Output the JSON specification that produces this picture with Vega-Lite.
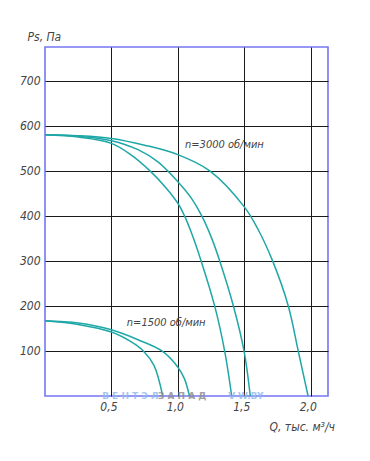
{
  "$schema": "https://vega.github.io/schema/vega-lite/v6.json",
  "autosize": "none",
  "width": 283,
  "height": 349,
  "padding": {"left": 45, "top": 47, "right": 42, "bottom": 65},
  "background": "white",
  "config": {
    "view": {"stroke": "#7676f2", "strokeWidth": 1.6},
    "font": "DejaVu Sans Condensed, Liberation Sans"
  },
  "datasets": {
    "curves": [
      {"curve": "3000a", "q": 0, "ps": 580},
      {"curve": "3000a", "q": 0.25, "ps": 575},
      {"curve": "3000a", "q": 0.5, "ps": 561},
      {"curve": "3000a", "q": 0.65, "ps": 535},
      {"curve": "3000a", "q": 0.79, "ps": 500},
      {"curve": "3000a", "q": 0.9, "ps": 466},
      {"curve": "3000a", "q": 1.0, "ps": 428},
      {"curve": "3000a", "q": 1.05, "ps": 400},
      {"curve": "3000a", "q": 1.1, "ps": 364},
      {"curve": "3000a", "q": 1.175, "ps": 300},
      {"curve": "3000a", "q": 1.277, "ps": 200},
      {"curve": "3000a", "q": 1.352, "ps": 100},
      {"curve": "3000a", "q": 1.405, "ps": 0},
      {"curve": "3000b", "q": 0, "ps": 580},
      {"curve": "3000b", "q": 0.25, "ps": 577},
      {"curve": "3000b", "q": 0.5, "ps": 567},
      {"curve": "3000b", "q": 0.7, "ps": 547},
      {"curve": "3000b", "q": 0.85, "ps": 520},
      {"curve": "3000b", "q": 1.0, "ps": 476},
      {"curve": "3000b", "q": 1.1, "ps": 440},
      {"curve": "3000b", "q": 1.18, "ps": 400},
      {"curve": "3000b", "q": 1.255, "ps": 350},
      {"curve": "3000b", "q": 1.315, "ps": 300},
      {"curve": "3000b", "q": 1.418, "ps": 200},
      {"curve": "3000b", "q": 1.498, "ps": 100},
      {"curve": "3000b", "q": 1.545, "ps": 0},
      {"curve": "3000c", "q": 0, "ps": 580},
      {"curve": "3000c", "q": 0.25, "ps": 578},
      {"curve": "3000c", "q": 0.5, "ps": 572},
      {"curve": "3000c", "q": 0.75, "ps": 557},
      {"curve": "3000c", "q": 1.0, "ps": 536},
      {"curve": "3000c", "q": 1.24, "ps": 500},
      {"curve": "3000c", "q": 1.5, "ps": 420},
      {"curve": "3000c", "q": 1.6, "ps": 372},
      {"curve": "3000c", "q": 1.713, "ps": 300},
      {"curve": "3000c", "q": 1.831, "ps": 200},
      {"curve": "3000c", "q": 1.906, "ps": 100},
      {"curve": "3000c", "q": 1.98, "ps": 0},
      {"curve": "1500a", "q": 0, "ps": 167},
      {"curve": "1500a", "q": 0.25, "ps": 159},
      {"curve": "1500a", "q": 0.5, "ps": 142},
      {"curve": "1500a", "q": 0.65, "ps": 120},
      {"curve": "1500a", "q": 0.74, "ps": 100},
      {"curve": "1500a", "q": 0.82, "ps": 68},
      {"curve": "1500a", "q": 0.886, "ps": 0},
      {"curve": "1500b", "q": 0, "ps": 167},
      {"curve": "1500b", "q": 0.25, "ps": 162},
      {"curve": "1500b", "q": 0.5, "ps": 147},
      {"curve": "1500b", "q": 0.7, "ps": 125},
      {"curve": "1500b", "q": 0.88, "ps": 100},
      {"curve": "1500b", "q": 1.0, "ps": 64},
      {"curve": "1500b", "q": 1.05, "ps": 38},
      {"curve": "1500b", "q": 1.087, "ps": 0}
    ],
    "labels": [
      {"q": 1.054, "ps": 557, "text": "n=3000 об/мин"},
      {"q": 0.616, "ps": 162, "text": "n=1500 об/мин"}
    ],
    "marks": [
      {"q": 0.43, "ps": 1, "text": "В Е Н Т Э Л", "kind": "a"},
      {"q": 0.85, "ps": 1, "text": "З А П А Д", "kind": "b"},
      {"q": 1.38, "ps": 1, "text": "V-W.BY", "kind": "a"}
    ]
  },
  "layer": [
    {
      "data": {"name": "curves"},
      "mark": {"type": "line", "interpolate": "catmull-rom", "color": "#1fa7a7", "strokeWidth": 1.5, "clip": true},
      "encoding": {
        "x": {
          "field": "q", "type": "quantitative",
          "scale": {"domain": [0, 2.13], "nice": false, "zero": false},
          "axis": {
            "values": [0.5, 1.0, 1.5, 2.0],
            "labelExpr": "replace(format(datum.value, '.1f'), '.', ',')",
            "grid": true, "gridColor": "#1a1a1a", "gridWidth": 1, "gridOpacity": 1,
            "domain": false, "ticks": false,
            "labelFont": "DejaVu Sans Condensed, Liberation Sans", "labelFontStyle": "italic", "labelFontSize": 12, "labelColor": "#444",
            "labelPadding": 5, "labelAlign": "center", "labelOffset": -3,
            "title": "Q, тыс. м³/ч",
            "titleFont": "DejaVu Sans Condensed, Liberation Sans", "titleFontStyle": "italic", "titleFontWeight": "normal", "titleFontSize": 12, "titleColor": "#444",
            "titleAnchor": "start", "titleAlign": "left", "titleX": 224, "titleY": 30, "titleBaseline": "middle"
          }
        },
        "y": {
          "field": "ps", "type": "quantitative",
          "scale": {"domain": [0, 775], "nice": false},
          "axis": {
            "values": [100, 200, 300, 400, 500, 600, 700],
            "grid": true, "gridColor": "#1a1a1a", "gridWidth": 1, "gridOpacity": 1,
            "domain": false, "ticks": false,
            "labelFont": "DejaVu Sans Condensed, Liberation Sans", "labelFontStyle": "italic", "labelFontSize": 12, "labelColor": "#444",
            "labelPadding": 5,
            "title": "Ps, Па",
            "titleFont": "DejaVu Sans Condensed, Liberation Sans", "titleFontStyle": "italic", "titleFontWeight": "normal", "titleFontSize": 12, "titleColor": "#444",
            "titleAngle": 0, "titleAlign": "left", "titleBaseline": "middle", "titleX": -18, "titleY": -11
          }
        },
        "detail": {"field": "curve", "type": "nominal"}
      }
    },
    {
      "data": {"name": "labels"},
      "mark": {"type": "text", "align": "left", "baseline": "middle", "font": "DejaVu Sans Condensed, Liberation Sans", "fontStyle": "italic", "fontSize": 11, "color": "#444"},
      "encoding": {
        "x": {"field": "q", "type": "quantitative"},
        "y": {"field": "ps", "type": "quantitative"},
        "text": {"field": "text"}
      }
    },
    {
      "data": {"name": "marks"},
      "mark": {"type": "text", "align": "left", "baseline": "middle", "font": "DejaVu Sans", "fontWeight": "bold", "fontSize": 9, "opacity": 0.8},
      "encoding": {
        "x": {"field": "q", "type": "quantitative"},
        "y": {"field": "ps", "type": "quantitative"},
        "text": {"field": "text"},
        "color": {"field": "kind", "type": "nominal", "scale": {"domain": ["a", "b"], "range": ["#8fb8ee", "#8a8a8a"]}, "legend": null}
      }
    }
  ]
}
